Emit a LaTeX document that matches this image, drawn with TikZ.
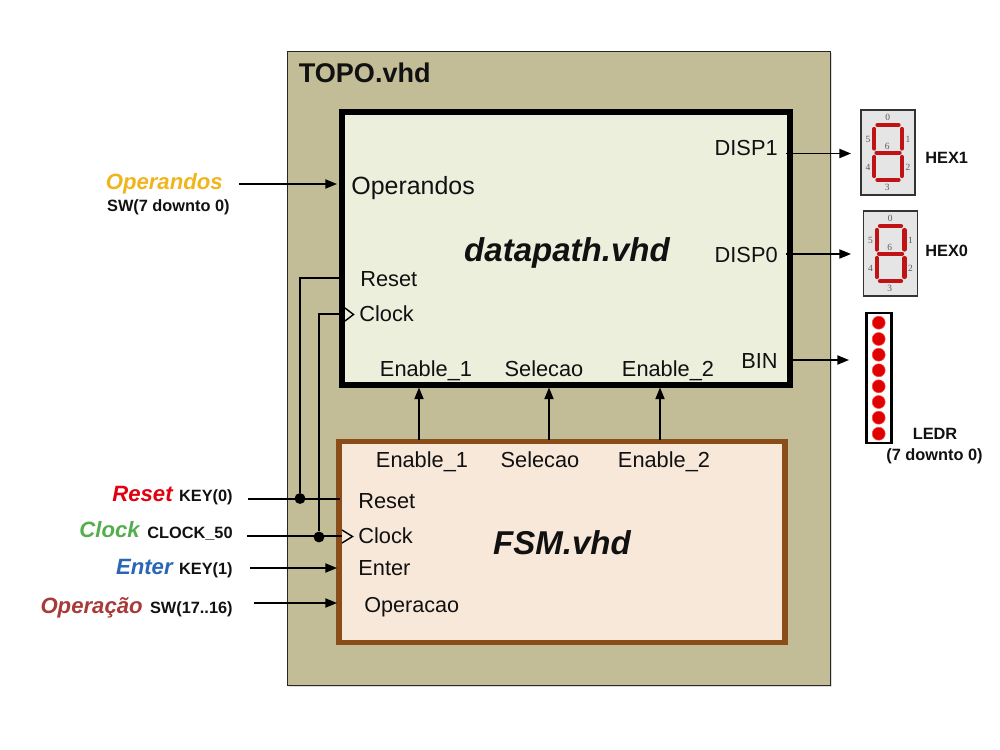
\documentclass[tikz,border=0pt]{standalone}
\usepackage{fontspec}
\setmainfont{Liberation Sans}
\newfontfamily\segfont{Liberation Serif}
\usetikzlibrary{arrows.meta}
\definecolor{topofill}{HTML}{C2BC97}
\definecolor{dpfill}{HTML}{EBEFDC}
\definecolor{fsmfill}{HTML}{F8E8DA}
\definecolor{fsmline}{HTML}{8A4C18}
\definecolor{segred}{HTML}{C01414}
\definecolor{ledred}{HTML}{E00000}
\definecolor{opyellow}{HTML}{F0B41C}
\definecolor{rstred}{HTML}{E00010}
\definecolor{clkgreen}{HTML}{55AE4E}
\definecolor{entblue}{HTML}{2A66B8}
\definecolor{opred}{HTML}{A83A3A}
\definecolor{txtblack}{HTML}{111111}
\tikzset{
 wire/.style={line width=0.8pt,black},
 arrowwire/.style={wire,-{Triangle[length=6.6pt,width=5.2pt]}},
 dot/.style={circle,fill=black,inner sep=0pt,minimum size=6.2pt},
 clocktri/.style={line width=0.8pt,black},
 port/.style={font=\fontsize{12.4}{14}\selectfont,text=txtblack,inner sep=0pt},
 sig/.style={font=\fontsize{12.6}{14}\bfseries\itshape\selectfont,inner sep=0pt},
 pin/.style={font=\fontsize{9.3}{11}\bfseries\selectfont,text=txtblack,inner sep=0pt},
 title/.style={font=\fontsize{18.8}{22}\bfseries\itshape\selectfont,text=txtblack,inner sep=0pt},
 disp/.style={draw=black!80,line width=1.1pt,fill=black!10},
 seg/.style={line width=2.4pt,segred,line cap=round},
 segnum/.style={font=\segfont\fontsize{5.4}{6}\selectfont,text=black!65,inner sep=0pt},
 led/.style={circle,fill=ledred,draw=red!70!white,line width=0.3pt,inner sep=0pt,minimum size=7.4pt}
}
\newcommand{\sevenseg}[2]{%
 \begin{scope}[shift={(#1,#2)}]
  \draw[disp] (0,0) rectangle (54,85);
  \draw[seg] (16.5,15) -- (37.5,15);
  \draw[seg] (15.5,42.7) -- (38.5,42.7);
  \draw[seg] (16.5,70) -- (37.5,70);
  \draw[seg] (13.3,19) -- (13.3,38.5);
  \draw[seg] (13.3,47) -- (13.3,66);
  \draw[seg] (41,19) -- (41,38.5);
  \draw[seg] (41,47) -- (41,66);
  \node[segnum] at (26.7,7.7) {0};
  \node[segnum] at (47,29) {1};
  \node[segnum] at (47,57) {2};
  \node[segnum] at (26.3,77) {3};
  \node[segnum] at (7,57) {4};
  \node[segnum] at (7,29) {5};
  \node[segnum] at (26.3,36) {6};
 \end{scope}}
\begin{document}
\begin{tikzpicture}[x=0.02cm,y=-0.02cm]
\useasboundingbox (0,0) rectangle (1000,750);
\fill[black!14] (289,53) rectangle (832,687);
\draw[fill=topofill,draw=black!85,line width=0.4pt] (287,51) rectangle (830,685);
\node[anchor=base west,inner sep=0pt,text=txtblack,font=\fontsize{15.4}{18}\bfseries\selectfont] (topo) at (298.5,83) {TOPO.vhd};
\draw[fill=dpfill,draw=black,line width=3.3pt] (342.2,112) rectangle (790,385);
\draw[fill=fsmfill,draw=fsmline,line width=3.1pt] (339,441.7) rectangle (785,642.5);
\node[title,anchor=base] (dptitle) at (567,261) {datapath.vhd};
\node[title,anchor=base] (fsmtitle) at (562,554) {FSM.vhd};
% datapath ports
\node[port,anchor=base west,font=\fontsize{14.2}{16}\selectfont] (dop) at (351,194) {Operandos};
\node[port,anchor=base west] (drst) at (360,286) {Reset};
\node[port,anchor=base west] (dclk) at (359,321) {Clock};
\node[port,anchor=base] (den1) at (426,376) {Enable\_1};
\node[port,anchor=base] (dsel) at (544,376) {Selecao};
\node[port,anchor=base] (den2) at (668,376) {Enable\_2};
\node[port,anchor=base east] (ddisp1) at (778,155) {DISP1};
\node[port,anchor=base east] (ddisp0) at (778,262) {DISP0};
\node[port,anchor=base east] (dbin) at (778,368) {BIN};
% fsm ports
\node[port,anchor=base] (fen1) at (422,467) {Enable\_1};
\node[port,anchor=base] (fsel) at (540,467) {Selecao};
\node[port,anchor=base] (fen2) at (664,467) {Enable\_2};
\node[port,anchor=base west] (frst) at (358,508) {Reset};
\node[port,anchor=base west] (fclk) at (358,543) {Clock};
\node[port,anchor=base west] (fent) at (358,575) {Enter};
\node[port,anchor=base west,font=\fontsize{12.3}{14}\selectfont] (fop) at (364,612) {Operacao};
% left labels
\node[sig,anchor=base east,text=opyellow] (lop) at (223,189) {Operandos};
\node[pin,anchor=base east] (lopsw) at (230,211) {SW(7 downto 0)};
\node[sig,anchor=base east,text=rstred] (lrst) at (173,501) {Reset};
\node[pin,anchor=base east] (lrstk) at (233,501) {KEY(0)};
\node[sig,anchor=base east,text=clkgreen] (lclk) at (140,537) {Clock};
\node[pin,anchor=base east] (lclkk) at (233,538) {CLOCK\_50};
\node[sig,anchor=base east,text=entblue] (lent) at (173,574) {Enter};
\node[pin,anchor=base east] (lentk) at (233,574) {KEY(1)};
\node[sig,anchor=base east,text=opred] (lopr) at (143,613) {Operação};
\node[pin,anchor=base east] (loprk) at (233,613) {SW(17..16)};
% displays
\sevenseg{861}{110}
\sevenseg{863.5}{211}
\node[pin,anchor=base west] (hex1) at (925,163) {HEX1};
\node[pin,anchor=base west] (hex0) at (925,256) {HEX0};
\draw[black,line width=1.4pt,fill=white] (866.5,313) rectangle (891.5,443);
\foreach \n/\y in {1/322.7,2/339,3/354.7,4/370.3,5/386.3,6/402,7/417.7,8/433.7}
  \node[led] (led\n) at (878.7,\y) {};
\node[pin,anchor=base] (ledr) at (935,439) {LEDR};
\node[pin,anchor=base] (ledrr) at (934.5,460) {(7 downto 0)};
% connector ends
\coordinate (aop0) at (239,184); \coordinate (aop1) at (337,184);
\coordinate (ad1a) at (786,153.5); \coordinate (ad1b) at (851,153.5);
\coordinate (ad0a) at (786,254); \coordinate (ad0b) at (851,254);
\coordinate (abna) at (790,360); \coordinate (abnb) at (849,360);
\coordinate (ve1a) at (419,440); \coordinate (ve1b) at (419,387.5);
\coordinate (vsea) at (549,440); \coordinate (vseb) at (549,387.5);
\coordinate (ve2a) at (660,440); \coordinate (ve2b) at (660,387.5);
\coordinate (rst0) at (248,499); \coordinate (rst1) at (340,499);
\coordinate (clk0) at (247,536); \coordinate (clk1) at (342,536);
\coordinate (ent0) at (250,568); \coordinate (ent1) at (337,568);
\coordinate (opr0) at (254,603); \coordinate (opr1) at (337,603);
\coordinate (drs1) at (342,278); \coordinate (dck1) at (344,314);
\node[dot] (rstdot) at (300,498.5) {};
\node[dot] (clkdot) at (319,537) {};
% connectors
\draw[arrowwire] (aop0) -- (aop1);
\draw[arrowwire] (ad1a) -- (ad1b);
\draw[arrowwire] (ad0a) -- (ad0b);
\draw[arrowwire] (abna) -- (abnb);
\draw[arrowwire] (ve1a) -- (ve1b);
\draw[arrowwire] (vsea) -- (vseb);
\draw[arrowwire] (ve2a) -- (ve2b);
\draw[arrowwire] (ent0) -- (ent1);
\draw[arrowwire] (opr0) -- (opr1);
\draw[wire] (rst0) -- (rst1);
\draw[wire] (clk0) -- (clk1);
\draw[wire] (rstdot) |- (drs1);
\draw[wire] (clkdot) |- (dck1);
% clock triangles
\draw[clocktri] (345,308) -- (353.5,314.5) -- (345,321);
\draw[clocktri] (342,530) -- (352.5,536.5) -- (342,543);
\end{tikzpicture}
\end{document}
